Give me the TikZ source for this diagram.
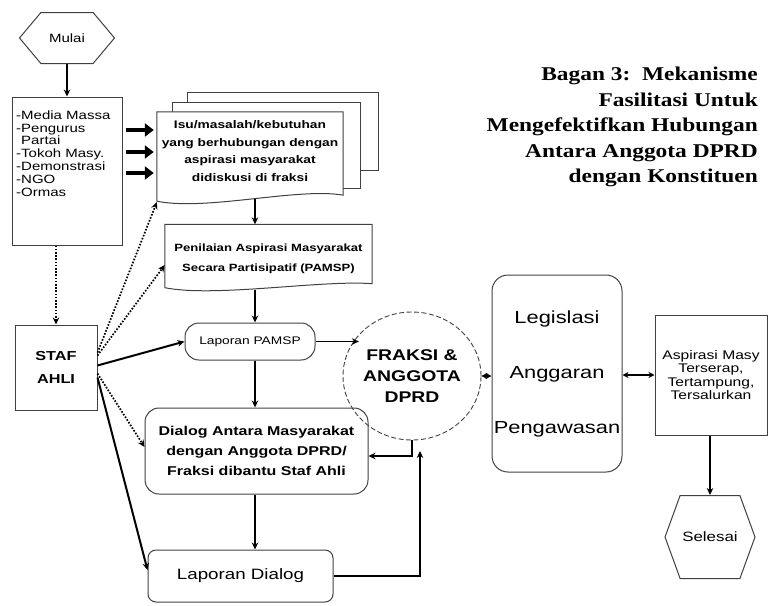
\documentclass[tikz,border=0pt]{standalone}
\usepackage{fontspec}
\setsansfont[FakeStretch=1.25]{Liberation Sans}
\newfontfamily\judul[FakeStretch=1.2]{Liberation Serif}
\usetikzlibrary{shapes.geometric,shapes.symbols,arrows.meta}
\newcommand{\uk}[2]{\fontsize{#1}{#2}\selectfont}

\tikzset{
  kotak/.style={draw=black!75, line width=1pt, inner sep=0pt, align=center, font=\sffamily},
  teks/.style={inner sep=0pt, align=center, font=\sffamily},
  dokumen/.style={draw=black!75, line width=1pt, fill=white},
  panah/.style={-{Stealth[length=7pt,width=6.5pt]}, line width=1.4pt},
  panahdua/.style={{Stealth[length=6pt,width=6pt]}-{Stealth[length=6pt,width=6pt]}, line width=1.4pt},
  panahblok/.style={-{Triangle[length=9pt,width=13pt]}, line width=4.5pt},
  panahtitik/.style={-{Stealth[length=7pt,width=6.5pt]}, line width=1.7pt, dash pattern=on 1.6pt off 1.6pt},
}

\begin{document}
\begin{tikzpicture}[x=1pt,y=-1pt]
				\useasboundingbox (0,0) rectangle (768,605);
				
				\node[anchor=north east, align=right, inner sep=0pt, font=\judul\bfseries\uk{19.5}{25.5}] (judul) at (758,67) {Bagan 3:\ \ Mekanisme\\Fasilitasi Untuk\\Mengefektifkan Hubungan\\Antara Anggota DPRD\\dengan Konstituen};
				
				\node[kotak, signal, signal to=east and west, signal pointer angle=100, minimum width=95pt, minimum height=51pt, font=\sffamily\uk{12}{14}] (mulai) at (67,38) {Mulai};
				
				\node[kotak, minimum width=110pt, minimum height=148pt] (sumber) at (67,171) {};
				\node[anchor=north west, inner sep=0pt, align=left, font=\sffamily\uk{12}{12.8}] (sumberteks) at (16,110.5) {-Media Massa\\-Pengurus\\\phantom{-}Partai\\-Tokoh Masy.\\-Demonstrasi\\-NGO\\-Ormas};
				
				% tumpukan dokumen
				\node[minimum width=186pt, minimum height=93pt, inner sep=0pt] (isu) at (250,158.5) {};
				\draw[dokumen] ([xshift=31pt,yshift=19pt]isu.north west) rectangle ([xshift=35pt,yshift=35pt]isu.south east);
				\draw[dokumen] ([xshift=16pt,yshift=9pt]isu.north west) rectangle ([xshift=17pt,yshift=17pt]isu.south east);
				\draw[dokumen] (isu.north west) -- (isu.north east) -- ([yshift=10pt]isu.south east) .. controls ([xshift=-45pt,yshift=18pt]isu.south east) and ([xshift=50pt,yshift=-6pt]isu.south west) .. ([yshift=4pt]isu.south west) -- cycle;
				\node[teks, font=\sffamily\bfseries\uk{11}{17.8}] (isuteks) at (250,151) {Isu/masalah/kebutuhan\\yang berhubungan dengan\\aspirasi masyarakat\\didiskusi di fraksi};
				
				\node[teks, minimum width=207pt, minimum height=69pt, font=\sffamily\bfseries\uk{10.5}{20}] (pamsp) at (268.5,259) {Penilaian Aspirasi Masyarakat\\Secara Partisipatif (PAMSP)};
				\draw[dokumen, fill=none] (pamsp.north west) -- (pamsp.north east) -- ([yshift=10pt]pamsp.south east) .. controls ([xshift=-50pt,yshift=14pt]pamsp.south east) and ([xshift=50pt,yshift=-4pt]pamsp.south west) .. ([yshift=6pt]pamsp.south west) -- cycle;
				
				\node[kotak, rounded corners=14pt, minimum width=130pt, minimum height=37pt, font=\sffamily\uk{11}{13}] (lapPamsp) at (250,341.5) {Laporan PAMSP};
				\node[draw=black!75, dash pattern=on 5pt off 2.5pt, line width=0.9pt, ellipse, minimum width=105pt, minimum height=128pt, inner sep=0pt, align=center, font=\sffamily\bfseries\uk{15.5}{21}] (fraksi) at (412,376) {FRAKSI \&\\ANGGOTA\\DPRD};
				\node[kotak, rounded corners=14pt, minimum width=223pt, minimum height=86pt, font=\sffamily\bfseries\uk{12.8}{20}] (dialog) at (256.5,451) {Dialog Antara Masyarakat\\dengan Anggota DPRD/\\Fraksi dibantu Staf Ahli};
				\node[kotak, rounded corners=8pt, minimum width=185pt, minimum height=52pt, font=\sffamily\uk{15}{17}] (lapDialog) at (240.5,576) {Laporan Dialog};
				\node[kotak, minimum width=82pt, minimum height=85pt, font=\sffamily\bfseries\uk{13}{23}] (staf) at (56,367.5) {STAF\\AHLI};
				
				\node[kotak, rounded corners=16pt, minimum width=130pt, minimum height=197pt, font=\sffamily\uk{17.5}{55}] (legislasi) at (557,373.5) {Legislasi\\Anggaran\\Pengawasan};
				\node[kotak, minimum width=112pt, minimum height=120pt, font=\sffamily\uk{12.5}{13.5}] (aspirasi) at (711,375) {Aspirasi Masy\\Terserap,\\Tertampung,\\Tersalurkan};
				\node[kotak, signal, signal to=east and west, signal pointer angle=140, minimum width=90pt, minimum height=83pt, font=\sffamily\uk{13.5}{15}] (selesai) at (710,537) {Selesai};
				
				% panah
				\coordinate (sumbu) at (255,0);
				\coordinate (balik) at (420,451);
				\draw[panah] (mulai.south) -- (sumber.north);
				\draw[panahblok, shorten <=3pt, shorten >=3pt] (sumber.east |- 0,130) -- (isu.west |- 0,130);
				\draw[panahblok, shorten <=3pt, shorten >=3pt] (sumber.east |- 0,152) -- (isu.west |- 0,152);
				\draw[panahblok, shorten <=3pt, shorten >=3pt] (sumber.east |- 0,173) -- (isu.west |- 0,173);
				\draw[panah, shorten <=-6pt] (isu.south -| sumbu) -- (pamsp.north -| sumbu);
				\draw[panah, shorten <=-4pt] (pamsp.south -| sumbu) -- (lapPamsp.north -| sumbu);
				\draw[panah] (lapPamsp.south -| sumbu) -- (dialog.north -| sumbu);
				\draw[panah] (dialog.south -| sumbu) -- (lapDialog.north -| sumbu);
				\draw[panah] (lapPamsp.east) -- (lapPamsp.east -| fraksi.142);
				\draw[panah] (fraksi.south) |- ([yshift=-5pt]dialog.east);
				\draw[panah] (lapDialog.east) -| (balik);
				\draw[panahdua] (fraksi.east) -- (fraksi.east -| legislasi.west);
				\draw[panahdua] (aspirasi.west -| legislasi.east) -- (aspirasi.west);
				\draw[panah] (aspirasi.south -| selesai.north) -- (selesai.north);
				
				\draw[panahtitik] (sumber.south -| staf.north) -- (staf.north);
				\draw[panahtitik] ([yshift=15pt]staf.east) -- ([yshift=3pt]isu.south west);
				\draw[panahtitik] ([yshift=12pt]staf.east) -- ([yshift=-6pt]pamsp.west);
				\draw[panah, line width=2pt] ([yshift=2pt]staf.east) -- (lapPamsp.west);
				\draw[panahtitik] ([yshift=-6pt]staf.east) -- ([yshift=4pt]dialog.west);
				\draw[panah, line width=2pt] ([yshift=-10pt]staf.east) -- ([yshift=6pt]lapDialog.west);
\end{tikzpicture}
\end{document}
